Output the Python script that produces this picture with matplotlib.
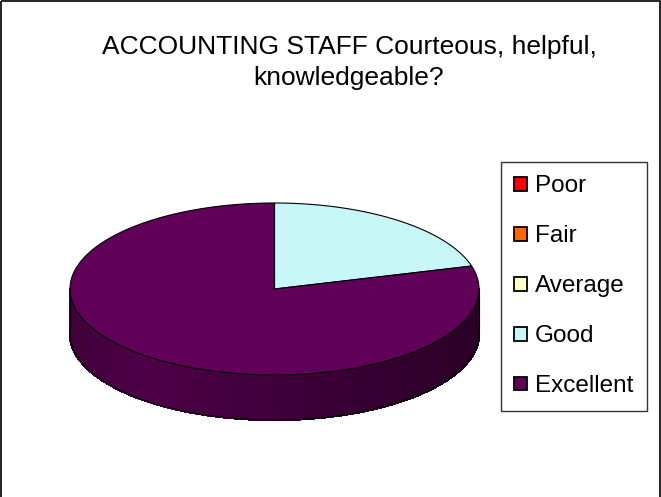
import numpy as np
import matplotlib
matplotlib.use("Agg")
import matplotlib.pyplot as plt
from matplotlib.patches import Polygon, Rectangle, Patch
from matplotlib.colors import to_rgb

# data
categorias = ["Poor", "Fair", "Average", "Good", "Excellent"]
valores = [0.0, 0.0, 0.0, 20.7, 79.3]
colores = ["#FF0000", "#FF6600", "#FFFFCC", "#C6F6F6", "#600058"]
titulo = "ACCOUNTING STAFF Courteous, helpful,\nknowledgeable?"

plt.rcParams["font.family"] = ["Liberation Sans", "DejaVu Sans"]

W, H = 661, 497
fig = plt.figure(figsize=(W / 100, H / 100), dpi=100)
ax = fig.add_axes([0, 0, 1, 1])
ax.set_xlim(0, W)
ax.set_ylim(H, 0)
ax.axis("off")

# geometria del pastel 3D (pixeles)
cx, cy, rx, ry, prof = 274.5, 289.0, 204.5, 86.0, 45.0


def punto(theta):
    t = np.radians(theta)
    return cx + rx * np.cos(t), cy - ry * np.sin(t)


# angulos de cada porcion: empieza a las 12 y va en sentido horario
total = sum(valores)
rangos = []
inicio = 90.0
for v in valores:
    fin = inicio - v / total * 360.0
    rangos.append((inicio, fin))
    inicio = fin


def color_en(theta):
    # buscar la porcion que contiene el angulo
    for (a, b), c, v in zip(rangos, colores, valores):
        if v == 0:
            continue
        for k in (0, -360, 360):
            if b <= theta + k <= a:
                return c
    return colores[-1]


def brillo(xn):
    # sombreado del lateral: algo oscuro a la izquierda, maximo cerca, oscuro a la derecha
    pts = [0.0, 0.18, 1.0]
    vals = [0.66, 0.81, 0.44]
    return np.interp(xn, pts, vals)


# lateral con degradado
thetas = np.linspace(180, 360, 241)
for t1, t2 in zip(thetas[:-1], thetas[1:]):
    x1, y1 = punto(t1)
    x2, y2 = punto(t2)
    base = np.array(to_rgb(color_en((t1 + t2) / 2)))
    xn = ((x1 + x2) / 2 - (cx - rx)) / (2 * rx)
    col = base * brillo(xn)
    ax.add_patch(Polygon([(x1, y1), (x2, y2), (x2, y2 + prof), (x1, y1 + prof)],
                         closed=True, facecolor=col, edgecolor=col, lw=1.0,
                         antialiased=False))

# contorno del lateral
arco = np.linspace(180, 360, 200)
xs, ys = punto(arco)
ax.plot(xs, ys + prof, color="black", lw=0.8)
ax.plot([cx - rx, cx - rx], [cy, cy + prof], color="black", lw=0.8)
ax.plot([cx + rx, cx + rx], [cy, cy + prof], color="black", lw=0.8)

# cara superior
for (a, b), c, v in zip(rangos, colores, valores):
    if v == 0:
        continue
    ang = np.linspace(a, b, 300)
    px, py = punto(ang)
    verts = [(cx, cy)] + list(zip(px, py))
    ax.add_patch(Polygon(verts, closed=True, facecolor=c, edgecolor="black", lw=0.8))

# titulo
ax.text(349, 85, titulo, ha="center", va="baseline", fontsize=19, linespacing=1.35)

# leyenda
manijas = [Patch(facecolor=c, edgecolor="black", lw=1.3) for c in colores]
leg = fig.legend(manijas, categorias, loc="upper left",
                 bbox_to_anchor=(501 / W, 1 - 162 / H), fontsize=17.5,
                 frameon=True, fancybox=False, shadow=False,
                 handlelength=0.5, handleheight=0.5, handletextpad=0.35,
                 labelspacing=1.15, borderpad=0.55, borderaxespad=0)
leg.get_frame().set_edgecolor("black")
leg.get_frame().set_linewidth(1.0)

# borde del grafico
ax.add_patch(Rectangle((0.5, 0.5), W - 1.5, H + 5, fill=False, edgecolor="black", lw=1.2))

fig.savefig("out.png", dpi=100)
